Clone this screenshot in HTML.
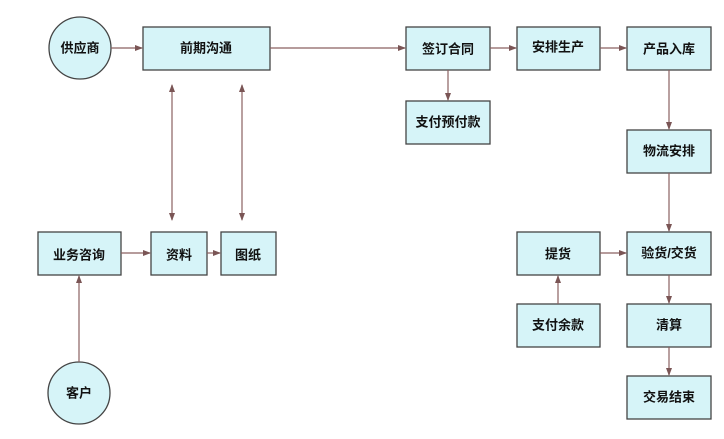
<!DOCTYPE html>
<html><head><meta charset="utf-8"><style>
body{margin:0;background:#fff;width:724px;height:434px;overflow:hidden}
svg text{font-family:"Liberation Sans","Noto Sans CJK SC",sans-serif;font-size:13px;font-weight:bold;fill:#111;text-anchor:middle;dominant-baseline:central}
</style></head><body>
<svg width="724" height="434" xmlns="http://www.w3.org/2000/svg">
<defs><marker id="a" markerWidth="8" markerHeight="8" refX="7" refY="4" orient="auto" markerUnits="userSpaceOnUse"><path d="M0,1 L8,4 L0,7Z" fill="#7a5555"/></marker></defs>
<g fill="#d6f4f8" stroke="#444" stroke-width="1.3">
<circle cx="80" cy="48" r="31"/>
<circle cx="79" cy="393" r="31"/>
<rect x="143" y="27" width="127" height="43"/>
<rect x="406" y="27" width="84" height="43"/>
<rect x="517" y="27" width="83" height="43"/>
<rect x="627" y="27" width="84" height="43"/>
<rect x="406" y="101" width="84" height="43"/>
<rect x="627" y="130" width="84" height="43"/>
<rect x="517" y="232" width="83" height="43"/>
<rect x="627" y="232" width="84" height="43"/>
<rect x="517" y="304" width="83" height="43"/>
<rect x="627" y="304" width="84" height="43"/>
<rect x="627" y="376" width="84" height="43"/>
<rect x="38" y="232" width="83" height="43"/>
<rect x="151" y="232" width="56" height="43"/>
<rect x="221" y="232" width="55" height="43"/>
</g>
<g stroke="#8a6060" stroke-width="1.2" fill="none" marker-end="url(#a)">
<line x1="111" y1="48" x2="142" y2="48"/>
<line x1="270" y1="48" x2="405" y2="48"/>
<line x1="490" y1="48" x2="516" y2="48"/>
<line x1="600" y1="48" x2="626" y2="48"/>
<line x1="448" y1="70" x2="448" y2="100"/>
<line x1="669" y1="70" x2="669" y2="129"/>
<line x1="669" y1="173" x2="669" y2="231"/>
<line x1="600" y1="253" x2="626" y2="253"/>
<line x1="669" y1="275" x2="669" y2="303"/>
<line x1="669" y1="347" x2="669" y2="375"/>
<line x1="558" y1="304" x2="558" y2="276"/>
<line x1="121" y1="253" x2="150" y2="253"/>
<line x1="207" y1="253" x2="220" y2="253"/>
<line x1="79" y1="362" x2="79" y2="276"/>
<line x1="172" y1="150" x2="172" y2="85"/>
<line x1="172" y1="150" x2="172" y2="220"/>
<line x1="242" y1="150" x2="242" y2="85"/>
<line x1="242" y1="150" x2="242" y2="220"/>
</g>
<text x="80" y="48">供应商</text>
<text x="79" y="393">客户</text>
<text x="206" y="48">前期沟通</text>
<text x="448" y="49">签订合同</text>
<text x="558" y="47">安排生产</text>
<text x="669" y="49">产品入库</text>
<text x="448" y="122">支付预付款</text>
<text x="669" y="151">物流安排</text>
<text x="558" y="254">提货</text>
<text x="669" y="253">验货/交货</text>
<text x="558" y="325">支付余款</text>
<text x="669" y="325">清算</text>
<text x="669" y="397">交易结束</text>
<text x="79" y="255">业务咨询</text>
<text x="179" y="255">资料</text>
<text x="248" y="255">图纸</text>
</svg>
</body></html>
